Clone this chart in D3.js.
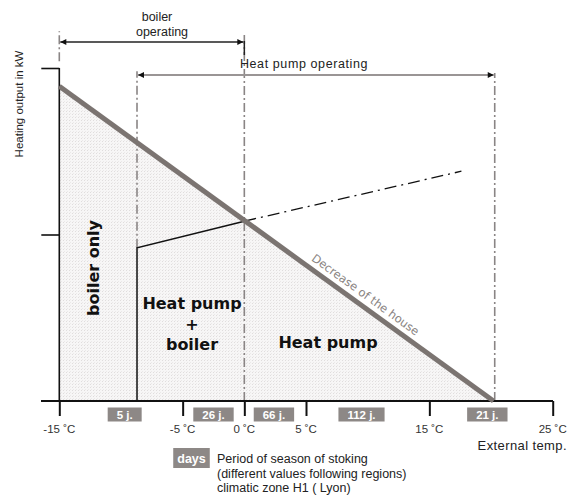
<!DOCTYPE html>
<html>
<head>
<meta charset="utf-8">
<script src="https://cdn.jsdelivr.net/npm/d3@7"></script>
<style>
  html, body { margin: 0; padding: 0; background: #fff; }
  svg { display: block; }
</style>
</head>
<body>
<div id="chart"></div>
<script>
// External temperature axis (°C)
const tempTicks = [-15, -5, 0, 5, 15, 25];
const tempTickLabels = ["-15 ˚C", "-5 ˚C", "0 ˚C", "5 ˚C", "15 ˚C", "25 ˚C"];
// Heating output ticks (unlabelled)
const outputTicks = [1, 2];

// Heat demand of the house vs outside temperature
const lossTemps = [-15, 20.2];
const lossOutput = [1.89, 0];

// Heat pump capacity (solid part, then its extension beyond the bivalent point)
const pumpTemps = [-8.7, -8.7, 0];
const pumpOutput = [0, 0.92, 1.08];
const pumpExtTemps = [0, 17.6];
const pumpExtOutput = [1.08, 1.38];

// Operating ranges
const boilerRange = [-15, 0];
const pumpRange = [-8.7, 20.3];

// Days of the heating season in each band (climatic zone H1, Lyon)
const dayLabels = ["5 j.", "26 j.", "66 j.", "112 j.", "21 j."];
const dayTemps = [-9.7, -2.5, 2.4, 9.5, 19.7];

const legendLines = [
  "Period of season of stoking",
  "(different values following regions)",
  "climatic zone H1 ( Lyon)"
];

const W = 572, H = 495;
const x = d3.scaleLinear().domain([-15, 25]).range([59.3, 552.7]);
const y = d3.scaleLinear().domain([0, 2]).range([401, 68]);

const svg = d3.select("#chart").append("svg")
  .attr("width", W).attr("height", H)
  .style("font-family", "'Liberation Sans', Arial, sans-serif");

const defs = svg.append("defs");
// stippled fill under the demand line
const pat = defs.append("pattern").attr("id", "stipple")
  .attr("width", 3).attr("height", 3).attr("patternUnits", "userSpaceOnUse");
pat.append("rect").attr("width", 3).attr("height", 3).attr("fill", "#f7f6f6");
pat.append("rect").attr("width", 1).attr("height", 1).attr("fill", "#e0dddd");
pat.append("rect").attr("x", 1).attr("y", 2).attr("width", 1).attr("height", 1).attr("fill", "#ebe9e9");

function arrowMarker(id, orient) {
  defs.append("marker").attr("id", id)
    .attr("viewBox", "0 0 10 10").attr("refX", 10).attr("refY", 5)
    .attr("markerWidth", 9).attr("markerHeight", 6)
    .attr("markerUnits", "userSpaceOnUse")
    .attr("orient", orient)
    .append("path").attr("d", "M0,0 L10,5 L0,10 Z").attr("fill", "#111");
}
arrowMarker("arrowEnd", "auto");
arrowMarker("arrowStart", "auto-start-reverse");

// Shaded area under the house demand line
const lossPts = lossTemps.map((t, i) => [t, lossOutput[i]]);
const area = d3.area().x(d => x(d[0])).y0(y(0)).y1(d => y(d[1]));
svg.append("path").datum(lossPts).attr("d", area).attr("fill", "url(#stipple)");

// Dash-dot guide lines
const dashDot = "9,3,2,3";
function guide(t, v0, v1) {
  svg.append("line")
    .attr("x1", x(t)).attr("x2", x(t))
    .attr("y1", y(v0)).attr("y2", y(v1))
    .attr("stroke", "#8a8585").attr("stroke-width", 1.6)
    .attr("stroke-dasharray", dashDot);
}
guide(boilerRange[0], 2.04, 2.22);
guide(boilerRange[1], 0, 2.21);
guide(pumpRange[0], pumpOutput[1], 1.98);
guide(pumpRange[1], 0, 1.97);

// Axes
const xAxis = d3.axisBottom(x).tickValues(tempTicks).tickSize(15).tickFormat("");
const gx = svg.append("g").attr("transform", `translate(0,${y(0)})`).call(xAxis);
gx.select(".domain").remove();
gx.selectAll(".tick line").attr("stroke", "#111").attr("stroke-width", 2);
svg.append("line").attr("x1", 41).attr("x2", 553).attr("y1", y(0)).attr("y2", y(0))
  .attr("stroke", "#111").attr("stroke-width", 2);

const yAxis = d3.axisLeft(y).tickValues(outputTicks).tickSize(18).tickFormat("");
const gy = svg.append("g").attr("transform", `translate(${x(-15)},0)`).call(yAxis);
gy.select(".domain").remove();
gy.selectAll(".tick line").attr("stroke", "#111").attr("stroke-width", 1.6);
svg.append("line").attr("x1", x(-15)).attr("x2", x(-15)).attr("y1", y(2)).attr("y2", y(0))
  .attr("stroke", "#111").attr("stroke-width", 1.6);

// Tick labels
svg.append("g").selectAll("text").data(tempTicks).join("text")
  .attr("x", d => x(d)).attr("y", 433)
  .attr("text-anchor", "middle").attr("font-size", 11.5).attr("fill", "#333")
  .text((d, i) => tempTickLabels[i]);

svg.append("text").attr("x", 567).attr("y", 450).attr("text-anchor", "end")
  .attr("font-size", 13).attr("letter-spacing", 0.4).attr("fill", "#222")
  .text("External temp.");

svg.append("text")
  .attr("transform", `translate(23,${104}) rotate(-90)`)
  .attr("text-anchor", "middle").attr("font-size", 11.5).attr("fill", "#222")
  .text("Heating output in kW");

// Heat pump capacity line
const line = d3.line().x(d => x(d[0])).y(d => y(d[1]));
svg.append("path")
  .datum(pumpTemps.map((t, i) => [t, pumpOutput[i]]))
  .attr("d", line).attr("fill", "none").attr("stroke", "#111").attr("stroke-width", 1.5);
svg.append("path")
  .datum(pumpExtTemps.map((t, i) => [t, pumpExtOutput[i]]))
  .attr("d", line).attr("fill", "none").attr("stroke", "#111").attr("stroke-width", 1.3)
  .attr("stroke-dasharray", "12,5,2,5");

// House demand line
svg.append("path").datum(lossPts).attr("d", line)
  .attr("fill", "none").attr("stroke", "#7b7471").attr("stroke-width", 5);

// Operating range arrows
svg.append("line")
  .attr("x1", x(boilerRange[0]) + 1).attr("x2", x(boilerRange[1]) - 1)
  .attr("y1", 42).attr("y2", 42)
  .attr("stroke", "#222").attr("stroke-width", 1.5)
  .attr("marker-start", "url(#arrowStart)").attr("marker-end", "url(#arrowEnd)");
svg.append("line").attr("x1", x(boilerRange[1])).attr("x2", x(boilerRange[1]))
  .attr("y1", 41).attr("y2", 55).attr("stroke", "#222").attr("stroke-width", 1.5);

svg.append("line")
  .attr("x1", x(pumpRange[0]) + 1).attr("x2", x(pumpRange[1]) - 1)
  .attr("y1", 75).attr("y2", 75)
  .attr("stroke", "#9a9595").attr("stroke-width", 2.2)
  .attr("marker-start", "url(#arrowStart)").attr("marker-end", "url(#arrowEnd)");

svg.append("text").attr("x", 157).attr("y", 21).attr("text-anchor", "middle")
  .attr("font-size", 12.5).attr("fill", "#222").text("boiler");
svg.append("text").attr("x", 162).attr("y", 36).attr("text-anchor", "middle")
  .attr("font-size", 12.5).attr("fill", "#222").text("operating");
svg.append("text").attr("x", 304).attr("y", 68).attr("text-anchor", "middle")
  .attr("font-size", 12.5).attr("letter-spacing", 0.6).attr("fill", "#222")
  .text("Heat pump operating");

// Zone labels
const zoneFont = "'DejaVu Sans', sans-serif";
svg.append("text")
  .attr("transform", "translate(99,268) rotate(-90)")
  .attr("text-anchor", "middle").attr("font-family", zoneFont)
  .attr("font-weight", "bold").attr("font-size", 16).attr("fill", "#111")
  .text("boiler only");
[["Heat pump", 309], ["+", 330], ["boiler", 350]].forEach(([t, yy]) => {
  svg.append("text").attr("x", 192).attr("y", yy).attr("text-anchor", "middle")
    .attr("font-family", zoneFont).attr("font-weight", "bold").attr("font-size", 16)
    .attr("fill", "#111").text(t);
});
svg.append("text").attr("x", 328).attr("y", 348).attr("text-anchor", "middle")
  .attr("font-family", zoneFont).attr("font-weight", "bold").attr("font-size", 16)
  .attr("fill", "#111").text("Heat pump");

// Label along the demand line
const p0 = [x(lossTemps[0]), y(lossOutput[0])];
const p1 = [x(lossTemps[1]), y(lossOutput[1])];
const ang = Math.atan2(p1[1] - p0[1], p1[0] - p0[0]) * 180 / Math.PI;
const tMid = 9.3;
const lx = x(tMid), ly = y(lossOutput[0] + (lossOutput[1] - lossOutput[0]) * (tMid - lossTemps[0]) / (lossTemps[1] - lossTemps[0]));
svg.append("text")
  .attr("transform", `translate(${lx},${ly}) rotate(${ang}) translate(0,-7)`)
  .attr("text-anchor", "middle").attr("font-family", zoneFont)
  .attr("font-size", 11.5).attr("fill", "#8a8482")
  .text("Decrease of the house");

// Day count boxes
const boxFill = "#8d8886";
function dayBox(cx, cy, label, fs, h, pad) {
  const g = svg.append("g");
  const t = g.append("text").attr("x", cx).attr("y", cy + fs * 0.36)
    .attr("text-anchor", "middle").attr("font-size", fs).attr("font-weight", "bold")
    .attr("fill", "#fff").text(label);
  const bb = t.node().getBBox();
  g.insert("rect", "text").attr("x", cx - bb.width / 2 - pad).attr("y", cy - h / 2)
    .attr("width", bb.width + 2 * pad).attr("height", h).attr("fill", boxFill);
}
dayLabels.forEach((lab, i) => dayBox(x(dayTemps[i]), 414.5, lab, 11.5, 14, 9));
dayBox(191.5, 458, "days", 12.5, 20, 4);

legendLines.forEach((l, i) => {
  svg.append("text").attr("x", 217).attr("y", 463 + i * 14.5)
    .attr("font-size", 12.5).attr("fill", "#222").text(l);
});
</script>
</body>
</html>
